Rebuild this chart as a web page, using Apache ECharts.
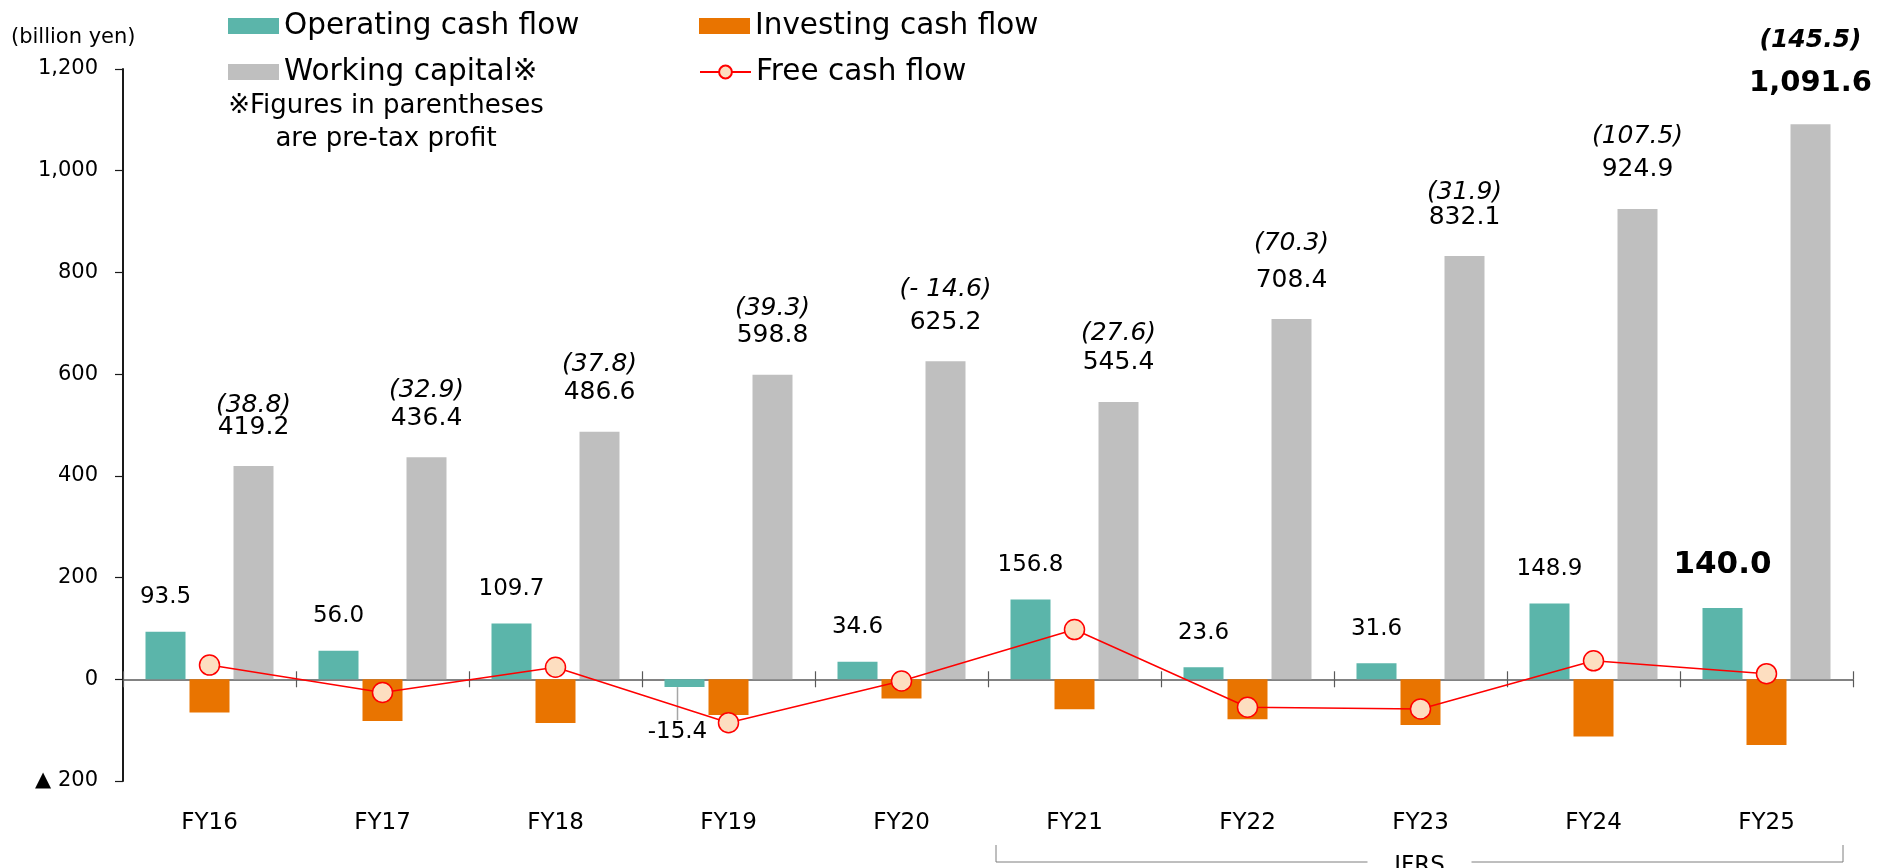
<!DOCTYPE html>
<html>
<head>
<meta charset="utf-8">
<title>Cash flow</title>
<script src="https://cdn.jsdelivr.net/npm/echarts@6/dist/echarts.min.js"></script>
<style>
  html, body { margin: 0; padding: 0; background: #fff; }
  #chart { width: 1879px; height: 868px; }
</style>
</head>
<body>
<div id="chart"></div>
<script>
// values (billion yen)
const years = ['FY16', 'FY17', 'FY18', 'FY19', 'FY20', 'FY21', 'FY22', 'FY23', 'FY24', 'FY25'];
const operatingCF = [93.5, 56.0, 109.7, -15.4, 34.6, 156.8, 23.6, 31.6, 148.9, 140.0];
const investingCF = [-65.5, -82.0, -86.0, -70.0, -38.0, -59.0, -78.6, -90.0, -112.6, -129.0];
const workingCapital = [419.2, 436.4, 486.6, 598.8, 625.2, 545.4, 708.4, 832.1, 924.9, 1091.6];
const pretaxProfit = [38.8, 32.9, 37.8, 39.3, -14.6, 27.6, 70.3, 31.9, 107.5, 145.5];
const freeCF = [28.0, -26.0, 23.7, -85.4, -3.4, 97.8, -55.0, -58.4, 36.3, 11.0];

// layout only: spacing between pre-tax line and working capital line
const profitLift = [18, 30, 30, 28, 40, 32, 48, 24, 40, 56];

const FONT = '"DejaVu Sans", "Noto Sans CJK JP", sans-serif';
const TEAL = '#5bb5aa';
const ORANGE = '#e97400';
const GRAY = '#bfbfbf';
const RED = '#ff0000';

const fmt = v => v.toLocaleString('en-US', { minimumFractionDigits: 1, maximumFractionDigits: 1 });
const fmtProfit = v => v < 0 ? '(- ' + fmt(-v) + ')' : '(' + fmt(v) + ')';

const last = years.length - 1;

const wcData = workingCapital.map((v, i) => {
  const bold = i === last;
  return {
    value: v,
    label: {
      show: true,
      position: 'top',
      distance: 26,
      formatter: bold
        ? '{pb|' + fmtProfit(pretaxProfit[i]) + '}\n{vb|' + fmt(v) + '}'
        : '{p|' + fmtProfit(pretaxProfit[i]) + '}\n{v|' + fmt(v) + '}',
      rich: {
        p: { fontFamily: FONT, fontSize: 25, fontStyle: 'italic', color: '#000', lineHeight: profitLift[i] },
        v: { fontFamily: FONT, fontSize: 25, color: '#000', lineHeight: 26 },
        pb: { fontFamily: FONT, fontSize: 25, fontStyle: 'italic', fontWeight: 'bold', color: '#000', lineHeight: profitLift[i] },
        vb: { fontFamily: FONT, fontSize: 29, fontWeight: 'bold', color: '#000', lineHeight: 30 }
      }
    }
  };
});

const opData = operatingCF.map((v, i) => {
  if (i === last) {
    return { value: v, label: { fontSize: 31, fontWeight: 'bold', distance: 28 } };
  }
  if (v < 0) {
    return {
      value: v,
      label: { position: 'bottom', distance: 5 },
      labelLine: { show: true, lineStyle: { color: '#a6a6a6', width: 1.5 } }
    };
  }
  return v;
});

const chart = echarts.init(document.getElementById('chart'));

const legendBase = {
  orient: 'horizontal',
  padding: 0,
  itemWidth: 51,
  itemHeight: 16,
  itemGap: 0,
  selectedMode: false,
  textStyle: { fontFamily: FONT, fontSize: 29.5, color: '#000', lineHeight: 30 }
};

const option = {
  animation: false,
  backgroundColor: '#fff',
  title: {
    text: '(billion yen)',
    left: 11,
    top: 27,
    padding: 0,
    textStyle: { fontFamily: FONT, fontSize: 21, fontWeight: 'normal', color: '#000' }
  },
  legend: [
    Object.assign({}, legendBase, { data: [{ name: 'Operating cash flow', icon: 'rect' }], left: 228, top: 11 }),
    Object.assign({}, legendBase, { data: [{ name: 'Investing cash flow', icon: 'rect' }], left: 699, top: 11 }),
    Object.assign({}, legendBase, { data: [{ name: 'Working capital※', icon: 'rect' }], left: 228, top: 57 }),
    Object.assign({}, legendBase, { data: ['Free cash flow'], left: 699, top: 57 })
  ],
  grid: [
    { left: 123, right: 26, top: 69, bottom: 87 },
    { left: 123, right: 26, top: 69, bottom: 87 }
  ],
  xAxis: [
    {
      type: 'category',
      data: years,
      gridIndex: 0,
      position: 'bottom',
      axisLine: { show: false, onZero: false },
      axisTick: { show: false },
      axisLabel: { interval: 0, margin: 31, fontFamily: FONT, fontSize: 23, color: '#000' }
    },
    {
      type: 'category',
      data: years,
      gridIndex: 0,
      position: 'top',
      axisLine: { show: true, onZero: true, lineStyle: { color: '#595959', width: 1.5 } },
      axisTick: { show: true, interval: 0, length: 8, lineStyle: { color: '#595959', width: 1.2 } },
      axisLabel: { show: false }
    },
    {
      type: 'category',
      data: years,
      gridIndex: 1,
      position: 'bottom',
      axisLine: { show: false, onZero: true },
      axisTick: { show: true, interval: 0, length: 8, lineStyle: { color: '#595959', width: 1.2 } },
      axisLabel: { show: false }
    }
  ],
  yAxis: [
    {
      type: 'value',
      gridIndex: 0,
      min: -200,
      max: 1200,
      interval: 200,
      splitLine: { show: false },
      axisLine: { show: true, lineStyle: { color: '#1a1a1a', width: 2 } },
      axisTick: { show: true, length: 8, lineStyle: { color: '#1a1a1a', width: 1.2 } },
      axisLabel: {
        margin: 25,
        fontFamily: FONT,
        fontSize: 21,
        color: '#000',
        formatter: v => v < 0 ? '▲ ' + (-v).toLocaleString('en-US') : v.toLocaleString('en-US')
      }
    },
    {
      type: 'value',
      gridIndex: 1,
      min: -200,
      max: 1200,
      interval: 200,
      show: false
    }
  ],
  series: [
    {
      name: 'Operating cash flow',
      type: 'bar',
      xAxisIndex: 0,
      yAxisIndex: 0,
      barWidth: 40,
      barGap: '10%',
      itemStyle: { color: TEAL },
      data: opData,
      label: {
        show: true,
        position: 'top',
        distance: 23,
        fontFamily: FONT,
        fontSize: 23,
        color: '#000',
        formatter: p => fmt(p.value)
      },
      labelLine: { show: false },
      labelLayout: p => (operatingCF[p.dataIndex] < 0 ? { dx: -7, dy: 28 } : {})
    },
    {
      name: 'Investing cash flow',
      type: 'bar',
      xAxisIndex: 0,
      yAxisIndex: 0,
      barWidth: 40,
      barGap: '10%',
      itemStyle: { color: ORANGE },
      data: investingCF
    },
    {
      name: 'Working capital※',
      type: 'bar',
      xAxisIndex: 0,
      yAxisIndex: 0,
      barWidth: 40,
      barGap: '10%',
      itemStyle: { color: GRAY },
      data: wcData
    },
    {
      name: 'Free cash flow',
      type: 'line',
      xAxisIndex: 0,
      yAxisIndex: 0,
      z: 5,
      symbol: 'circle',
      symbolSize: 20,
      lineStyle: { color: RED, width: 1.5 },
      itemStyle: { color: '#fddec0', borderColor: RED, borderWidth: 1.5 },
      data: freeCF
    }
  ]
};

chart.setOption(option);

// IFRS bracket under FY21-FY25
const c21 = chart.convertToPixel({ xAxisIndex: 0 }, 'FY21');
const c22 = chart.convertToPixel({ xAxisIndex: 0 }, 'FY22');
const c25 = chart.convertToPixel({ xAxisIndex: 0 }, 'FY25');
const band = c22 - c21;
const bx1 = c21 - band / 2 + 8;
const bx2 = c25 + band / 2 - 10;
const by1 = 845, by2 = 862;
const mid = (bx1 + bx2) / 2;
const stroke = { stroke: '#7f7f7f', lineWidth: 1 };

chart.setOption({
  graphic: [
    {
      type: 'text',
      x: 386,
      y: 90,
      style: {
        text: '※Figures in parentheses\nare pre-tax profit',
        font: '26px ' + FONT,
        fill: '#000',
        align: 'center',
        verticalAlign: 'top',
        lineHeight: 33
      }
    },
    { type: 'line', shape: { x1: bx1, y1: by1, x2: bx1, y2: by2 }, style: stroke },
    { type: 'line', shape: { x1: bx1, y1: by2, x2: mid - 52, y2: by2 }, style: stroke },
    { type: 'line', shape: { x1: mid + 52, y1: by2, x2: bx2, y2: by2 }, style: stroke },
    { type: 'line', shape: { x1: bx2, y1: by1, x2: bx2, y2: by2 }, style: stroke },
    {
      type: 'text',
      x: mid,
      y: 866,
      style: { text: 'IFRS', font: '23px ' + FONT, fill: '#000', align: 'center', verticalAlign: 'middle' }
    }
  ]
});
</script>
</body>
</html>
